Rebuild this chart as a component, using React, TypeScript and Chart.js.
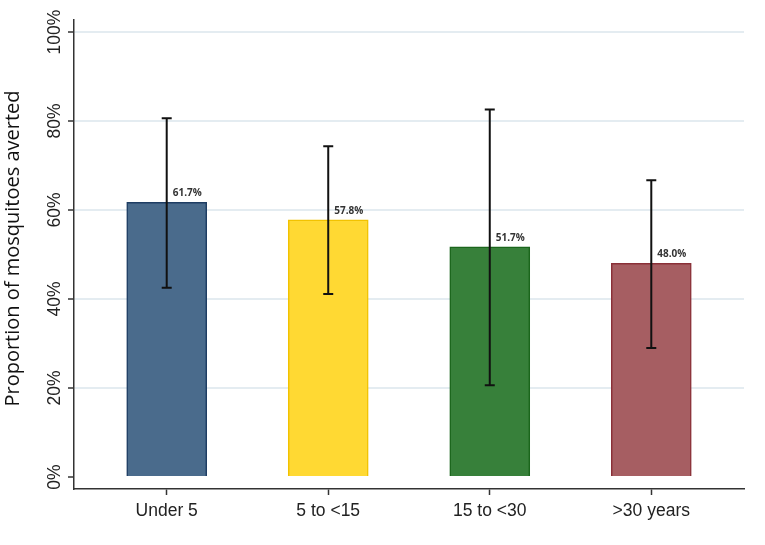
import { useEffect, useRef } from "react"
import { Chart, registerables } from "chart.js"

Chart.register(...registerables)

// age groups and proportion of mosquitoes averted (%)
const groups = ["Under 5", "5 to <15", "15 to <30", ">30 years"]
const averted = [61.7, 57.8, 51.7, 48.0]
const lower = [42.5, 41.1, 20.6, 29.0]
const upper = [80.6, 74.3, 82.6, 66.7]
const yTicks = [0, 20, 40, 60, 80, 100]

const fills = ["#4a6b8c", "#ffd933", "#37803a", "#a65e62"]
const borders = ["#1e3d63", "#f2c200", "#1b661c", "#8a3038"]

// error bars, value labels, rotated y labels and title
const extras = {
  id: "extras",
  afterDatasetsDraw(chart: Chart) {
    const ctx = chart.ctx
    const x = chart.scales.x
    const y = chart.scales.y
    ctx.save()
    ctx.strokeStyle = "#111"
    ctx.lineWidth = 2
    groups.forEach((_, i) => {
      const px = x.getPixelForValue(i)
      const top = y.getPixelForValue(upper[i])
      const bot = y.getPixelForValue(lower[i])
      ctx.beginPath()
      ctx.moveTo(px, top)
      ctx.lineTo(px, bot)
      ctx.moveTo(px - 5, top)
      ctx.lineTo(px + 5, top)
      ctx.moveTo(px - 5, bot)
      ctx.lineTo(px + 5, bot)
      ctx.stroke()

      ctx.fillStyle = "#333"
      ctx.font = "bold 10px 'Open Sans'"
      ctx.textAlign = "left"
      ctx.textBaseline = "alphabetic"
      ctx.fillText(averted[i].toFixed(1) + "%", px + 6, y.getPixelForValue(averted[i]) - 6)
    })
    ctx.restore()
  },
  afterDraw(chart: Chart) {
    const ctx = chart.ctx
    const y = chart.scales.y
    ctx.save()
    ctx.fillStyle = "#222"
    ctx.textAlign = "center"
    ctx.textBaseline = "middle"
    ctx.font = "17.5px 'Liberation Sans'"
    yTicks.forEach((v) => {
      ctx.save()
      ctx.translate(55, y.getPixelForValue(v))
      ctx.rotate(-Math.PI / 2)
      ctx.fillText(v + "%", 0, 0)
      ctx.restore()
    })
    ctx.font = "20px 'Open Sans'"
    ctx.fillStyle = "#111"
    ctx.translate(13, (chart.chartArea.top + chart.chartArea.bottom) / 2 - 6)
    ctx.rotate(-Math.PI / 2)
    ctx.fillText("Proportion of mosquitoes averted", 0, 0)
    ctx.restore()
  },
}

function AvertedChart() {
  const chartRef = useRef<HTMLCanvasElement>(null)
  const chartInstance = useRef<Chart | null>(null)

  useEffect(() => {
    if (!chartRef.current) return
    if (chartInstance.current) {
      chartInstance.current.destroy()
    }
    const ctx = chartRef.current.getContext("2d")
    if (!ctx) return

    chartInstance.current = new Chart(ctx, {
      type: "bar",
      data: {
        datasets: [
          {
            data: averted.map((v, i) => ({ x: i, y: v })),
            backgroundColor: fills,
            borderColor: borders,
            borderWidth: 1.5,
            barThickness: 80,
          },
        ],
      },
      options: {
        responsive: false,
        animation: false,
        layout: { padding: { top: 20, right: 21, left: 68, bottom: 17 } },
        plugins: { legend: { display: false }, tooltip: { enabled: false } },
        scales: {
          x: {
            type: "linear",
            min: -0.574,
            max: 3.574,
            offset: false,
            afterBuildTicks: (scale) => {
              scale.ticks = groups.map((_, i) => ({ value: i }))
            },
            ticks: {
              callback: (_v, i) => groups[i],
              color: "#222",
              font: { family: "'Liberation Sans'", size: 17.5 },
              padding: 6,
              maxRotation: 0,
            },
            grid: {
              offset: false,
              drawOnChartArea: false,
              drawTicks: true,
              tickLength: 6,
              tickColor: "#333",
              tickWidth: 1.5,
            },
            border: { display: true, color: "#333", width: 1.5 },
          },
          y: {
            min: -2.7,
            max: 102.7,
            afterBuildTicks: (scale) => {
              scale.ticks = yTicks.map((v) => ({ value: v }))
            },
            ticks: { display: false },
            grid: {
              color: (c) => (c.tick && c.tick.value === 0 ? "rgba(0,0,0,0)" : "#e4ecf1"),
              lineWidth: 2,
              drawTicks: true,
              tickLength: 6,
              tickColor: "#333",
              tickWidth: 1.5,
            },
            border: { display: true, color: "#333", width: 1.5 },
          },
        },
      },
      plugins: [extras],
    })

    return () => {
      if (chartInstance.current) {
        chartInstance.current.destroy()
        chartInstance.current = null
      }
    }
  }, [])

  return <canvas ref={chartRef} width={765} height={545} />
}

export default function App() {
  useEffect(() => {
    document.body.style.margin = "0"
  }, [])
  return (
    <div style={{ width: 765, height: 545, background: "#fff" }}>
      <AvertedChart />
    </div>
  )
}
